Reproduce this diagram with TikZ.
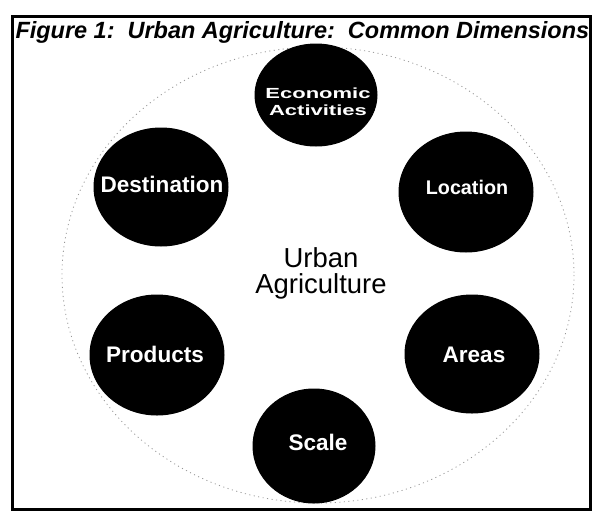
\documentclass[tikz,border=0pt]{standalone}
\usepackage{fontspec}
\setmainfont{Liberation Sans}
\usetikzlibrary{positioning}

\tikzset{every picture/.style={line width=0.75pt}}
\tikzset{
  dimblob/.style={fill=black,draw=black},
  dimlabel/.style={text=white,font=\bfseries\fontsize{16.9}{19}\selectfont,inner sep=0pt},
  ringline/.style={draw={rgb,255:red,150;green,150;blue,150},line width=0.6pt,dash pattern=on 0.8pt off 2.6pt}
}

\begin{document}
\begin{tikzpicture}[x=0.75pt,y=0.75pt,yscale=-1,xscale=1]
%set diagram size to the scan
\useasboundingbox (0,0) rectangle (593,511);

%Shape: Rectangle [id:frame]
\draw [line width=2.25] (12,16) rectangle (590,509);

%Shape: Ellipse [id:ring]
\draw [ringline] (318,275) ellipse [x radius=256, y radius=228];

%Shape: Ellipse [id:economic]
\draw [dimblob] (316,95) ellipse [x radius=61, y radius=51];
%Shape: Ellipse [id:location]
\draw [dimblob] (466,192) ellipse [x radius=67, y radius=60];
%Shape: Ellipse [id:destination]
\draw [dimblob] (161,187) ellipse [x radius=67, y radius=59];
%Shape: Ellipse [id:areas]
\draw [dimblob] (472,354) ellipse [x radius=67, y radius=59];
%Shape: Ellipse [id:products]
\draw [dimblob] (157,355) ellipse [x radius=67, y radius=60];
%Shape: Ellipse [id:scale]
\draw [dimblob] (314,446) ellipse [x radius=61, y radius=57];

% Text Node
\draw (15,38) node (title) [anchor=base west][inner sep=0pt] {\bfseries\itshape\fontsize{17.6}{20}\selectfont Figure 1:\ \ Urban Agriculture:\ \ Common Dimensions};
% Text Node
\draw (321,273) node (ua) [align=center,font=\fontsize{20.6}{19.5}\selectfont][inner sep=0pt] {Urban\\Agriculture};
% Text Node
\draw (318,102) node (econ) [dimlabel,align=center,font=\bfseries\fontsize{11}{12.8}\selectfont] {\scalebox{1.5}[1]{Economic}\\\scalebox{1.5}[1]{Activities}};
% Text Node
\draw (467,187) node (loc) [dimlabel,font=\bfseries\fontsize{14.8}{17}\selectfont] {Location};
% Text Node
\draw (162,184) node (dest) [dimlabel] {Destination};
% Text Node
\draw (474,355) node (areas) [dimlabel] {Areas};
% Text Node
\draw (155,354) node (prod) [dimlabel] {Products};
% Text Node
\draw (318,442) node (scale) [dimlabel] {Scale};

\end{tikzpicture}
\end{document}
